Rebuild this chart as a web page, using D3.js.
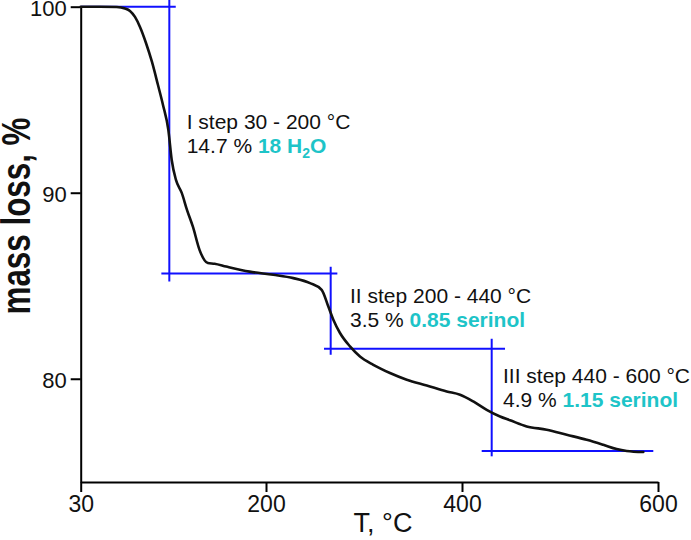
<!DOCTYPE html>
<html>
<head>
<meta charset="utf-8">
<script src="https://cdn.jsdelivr.net/npm/d3@7/dist/d3.min.js"></script>
<style>
  html, body { margin: 0; padding: 0; background: #fff; }
  svg { display: block; font-family: "Liberation Sans", Arial, sans-serif; }
</style>
</head>
<body>
<script>
// ---- Data ----
const tempC = [30, 47.7, 63.0, 70.6, 75.2, 79.8, 84.4, 89.9, 95.4, 100.9, 105.5, 110.4, 113.5, 117.4,
  122.7, 127.5, 133.0, 139.0, 146.6, 152.8, 163.5, 184.9, 207.4, 227.9, 244.9, 256.8, 263.6, 268.7,
  275.5, 285.7, 295.9, 309.5, 326.5, 343.6, 364.0, 384.4, 398.0, 411.5, 425.2, 438.8, 449.0, 466.0,
  486.4, 506.8, 527.2, 544.2, 557.8, 568.1, 585.0];
const massPct = [100, 100, 99.98, 99.9, 99.77, 99.45, 98.91, 98.05, 97.03, 95.79, 94.72, 93.38, 91.76, 90.69,
  89.99, 89.08, 88.16, 86.93, 86.22, 86.18, 86.03, 85.76, 85.59, 85.41, 85.14, 84.78, 83.88, 83.17,
  82.46, 81.74, 81.20, 80.75, 80.31, 79.95, 79.64, 79.32, 79.14, 78.78, 78.33, 77.97, 77.77, 77.44,
  77.26, 76.99, 76.72, 76.45, 76.22, 76.12, 76.06];

const xTicks = [30, 200, 400, 600];
const yTicks = [80, 90, 100];

// step marker lines (blue)
const hLevel = [100, 85.66, 81.61, 76.12];
const hStart = [30, 104.0, 259.2, 420.1];
const hEnd   = [117.2, 272.8, 443.9, 595.2];
const vTemp   = [111.3, 266.0, 430.3];
const vTop    = [100.36, 86.02, 82.15];
const vBottom = [85.23, 81.29, 75.83];

// annotations
const stepTitle  = ["I step 30 - 200 \u00B0C", "II step 200 - 440 \u00B0C", "III step 440 - 600 \u00B0C"];
const stepLoss   = ["14.7 %", "3.5 %", "4.9 %"];
const stepAssign = [["18 H", "2", "O"], ["0.85 serinol", "", ""], ["1.15 serinol", "", ""]];

// ---- Chart ----
const W = 691, H = 540;
const svg = d3.select("body").append("svg").attr("width", W).attr("height", H);

const x = d3.scaleLinear().domain([30, 200, 400, 600]).range([80.7, 266, 462, 658]);
const y = d3.scaleLinear().domain([74.45, 100]).range([482, 6.7]);

// axes
const xAxis = svg.append("g").attr("transform", `translate(0,${y(74.45)})`)
  .call(d3.axisBottom(x).tickValues(xTicks).tickSize(10).tickSizeOuter(0).tickPadding(4).tickFormat(d3.format("d")));
const yAxis = svg.append("g").attr("transform", `translate(${x(30)},0)`)
  .call(d3.axisLeft(y).tickValues(yTicks).tickSize(10).tickSizeOuter(0).tickPadding(4).tickFormat(d3.format("d")));

[xAxis, yAxis].forEach(g => {
  g.selectAll("path.domain").attr("stroke", "#000").attr("stroke-width", 2);
  g.selectAll(".tick line").attr("stroke", "#000").attr("stroke-width", 2);
  g.selectAll(".tick text").attr("fill", "#111").attr("font-family", "Liberation Sans, Arial, sans-serif");
});
xAxis.selectAll(".tick text").attr("font-size", 23);
yAxis.selectAll(".tick text").attr("font-size", 22).attr("dy", "0.38em");

// axis titles
svg.append("text")
  .attr("x", 383).attr("y", 532)
  .attr("text-anchor", "middle")
  .attr("font-size", 27).attr("fill", "#111")
  .text("T, \u00B0C");

svg.append("text")
  .attr("transform", `translate(30,216) rotate(-90)`)
  .attr("text-anchor", "middle")
  .attr("font-size", 40).attr("font-weight", "bold").attr("fill", "#111")
  .attr("textLength", 197).attr("lengthAdjust", "spacingAndGlyphs")
  .text("mass loss, %");

// blue step lines
const blue = "#1010ff";
svg.append("g").selectAll("line.h").data(hLevel).join("line")
  .attr("x1", (d, i) => x(hStart[i])).attr("x2", (d, i) => x(hEnd[i]))
  .attr("y1", d => y(d)).attr("y2", d => y(d))
  .attr("stroke", blue).attr("stroke-width", 2);
svg.append("g").selectAll("line.v").data(vTemp).join("line")
  .attr("x1", d => x(d)).attr("x2", d => x(d))
  .attr("y1", (d, i) => y(vTop[i])).attr("y2", (d, i) => y(vBottom[i]))
  .attr("stroke", blue).attr("stroke-width", 2);

// TG curve
const pts = tempC.map((t, i) => [t, massPct[i]]);
svg.append("path")
  .datum(pts)
  .attr("fill", "none").attr("stroke", "#111").attr("stroke-width", 2.6)
  .attr("stroke-linejoin", "round").attr("stroke-linecap", "round")
  .attr("d", d3.line().x(d => x(d[0])).y(d => y(d[1])).curve(d3.curveMonotoneX));

// annotations
const labelPos = [[186.7, 129], [350, 303], [503, 383]];
const cyan = "#1ec4c8";
stepTitle.forEach((t, i) => {
  const [lx, ly] = labelPos[i];
  svg.append("text").attr("x", lx).attr("y", ly).attr("font-size", 21).attr("fill", "#111").text(t);
  const t2 = svg.append("text").attr("x", lx).attr("y", ly + 24).attr("font-size", 21).attr("fill", "#111");
  t2.append("tspan").text(stepLoss[i] + " ");
  const a = stepAssign[i];
  t2.append("tspan").attr("fill", cyan).attr("font-weight", "bold").text(a[0]);
  if (a[1]) {
    t2.append("tspan").attr("fill", cyan).attr("font-weight", "bold").attr("font-size", 14).attr("dy", 5).text(a[1]);
    t2.append("tspan").attr("fill", cyan).attr("font-weight", "bold").attr("dy", -5).text(a[2]);
  }
});
</script>
</body>
</html>
